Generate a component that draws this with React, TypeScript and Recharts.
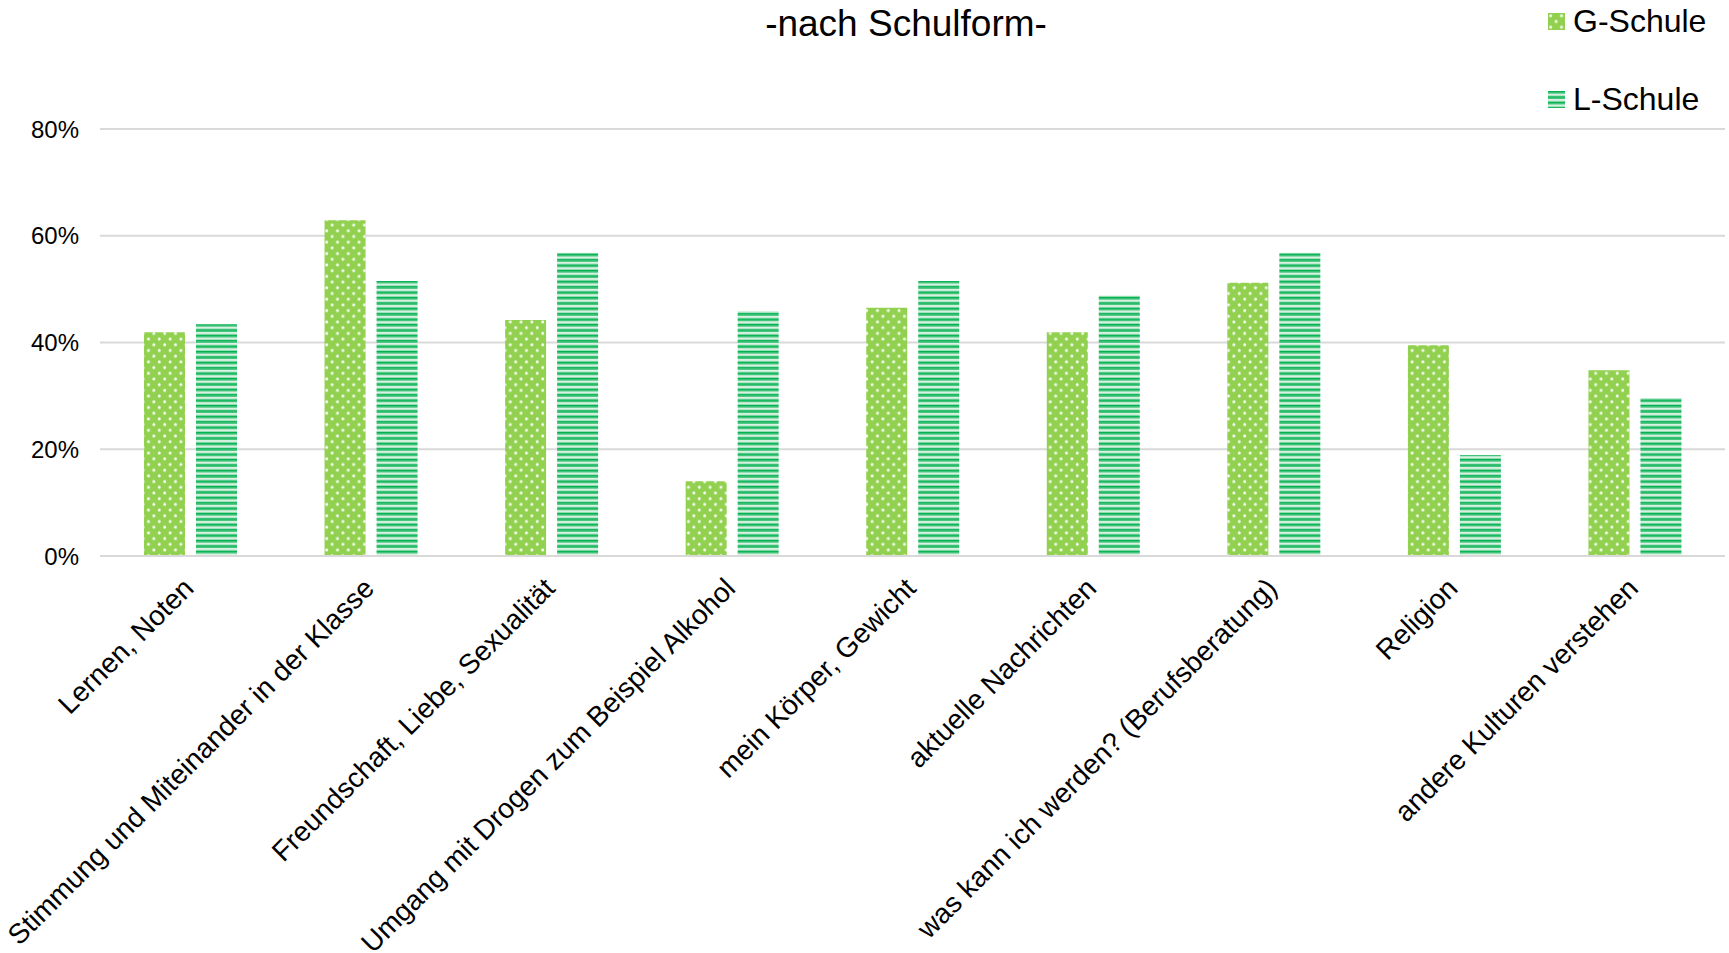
import { BarChart, Bar, XAxis, YAxis, CartesianGrid } from 'recharts';

const categories = [
  'Lernen, Noten',
  'Stimmung und Miteinander in der Klasse',
  'Freundschaft, Liebe, Sexualität',
  'Umgang mit Drogen zum Beispiel Alkohol',
  'mein Körper, Gewicht',
  'aktuelle Nachrichten',
  'was kann ich werden? (Berufsberatung)',
  'Religion',
  'andere Kulturen verstehen',
];
const gSchule = [41.9, 62.9, 44.2, 14.0, 46.5, 41.9, 51.2, 39.5, 34.8];
const lSchule = [43.4, 51.5, 56.8, 45.9, 51.5, 48.8, 56.8, 18.9, 29.6];
const yTicks = [0, 20, 40, 60, 80];

const data = categories.map((name, i) => ({ name, g: gSchule[i], l: lSchule[i] }));

const FONT = '"Liberation Sans", Arial, sans-serif';
const G_COLOR = '#92d050';
const L_COLOR = '#00b050';

// fill patterns, shared by bars and legend swatches
function Patterns() {
  return (
    <svg width={0} height={0} style={{ position: 'absolute' }}>
      <defs>
        <pattern id="dots" width={10.8} height={11.4} patternUnits="userSpaceOnUse">
          <rect width={10.8} height={11.4} fill={G_COLOR} />
          <circle cx={2.7} cy={2.8} r={1.5} fill="#fff" fillOpacity={0.9} />
          <circle cx={8.1} cy={8.5} r={1.5} fill="#fff" fillOpacity={0.9} />
        </pattern>
        <pattern id="stripes" width={10} height={5.4} patternUnits="userSpaceOnUse">
          <rect width={10} height={5.4} fill="#dcf3e5" />
          <rect y={0} width={10} height={1.6} fill={L_COLOR} />
          <rect y={1.6} width={10} height={1.1} fill="#4cc77e" />
          <rect y={4.4} width={10} height={1} fill="#8fdcae" />
        </pattern>
      </defs>
    </svg>
  );
}

function CategoryTick({ x, y, payload }: any) {
  const tx = x + 5;
  const ty = y + 34;
  return (
    <text
      x={tx}
      y={ty}
      transform={`rotate(-45, ${tx}, ${ty})`}
      textAnchor="end"
      fontSize={28}
      fontFamily={FONT}
      fill="#000"
    >
      {payload.value}
    </text>
  );
}

function LegendItem({ top, fill, label }: { top: number; fill: string; label: string }) {
  return (
    <div style={{ position: 'absolute', left: 1548, top, display: 'flex', alignItems: 'center' }}>
      <svg width={17} height={17} style={{ display: 'block' }}>
        <rect width={17} height={17} fill={fill} />
      </svg>
      <span style={{ marginLeft: 8, fontSize: 32, fontFamily: FONT, color: '#000', lineHeight: '36px' }}>
        {label}
      </span>
    </div>
  );
}

export default function App() {
  return (
    <div style={{ position: 'absolute', left: 0, top: 0, width: 1729, height: 953, background: '#fff' }}>
      <Patterns />
      <div
        style={{
          position: 'absolute',
          left: 0,
          width: 1812,
          top: 2,
          textAlign: 'center',
          fontSize: 37,
          fontFamily: FONT,
          color: '#000',
          lineHeight: '44px',
        }}
      >
        -nach Schulform-
      </div>
      <LegendItem top={3} fill="url(#dots)" label="G-Schule" />
      <LegendItem top={81} fill="url(#stripes)" label="L-Schule" />
      <BarChart
        width={1729}
        height={953}
        data={data}
        margin={{ top: 129, right: 4, bottom: 0, left: 0 }}
        barGap={11}
        barSize={41}
      >
        <CartesianGrid vertical={false} stroke="#d9d9d9" strokeWidth={2} />
        <XAxis
          dataKey="name"
          height={397}
          interval={0}
          tickSize={0}
          tickMargin={0}
          axisLine={{ stroke: '#d9d9d9', strokeWidth: 2 }}
          tickLine={false}
          tick={<CategoryTick />}
        />
        <YAxis
          width={100}
          domain={[0, 80]}
          ticks={yTicks}
          tickFormatter={(v) => `${v}%`}
          axisLine={false}
          tickLine={false}
          tickSize={0}
          tickMargin={21}
          tick={{ fontSize: 24, fontFamily: FONT, fill: '#000' }}
        />
        <Bar dataKey="g" fill="url(#dots)" isAnimationActive={false} />
        <Bar dataKey="l" fill="url(#stripes)" isAnimationActive={false} />
      </BarChart>
    </div>
  );
}
